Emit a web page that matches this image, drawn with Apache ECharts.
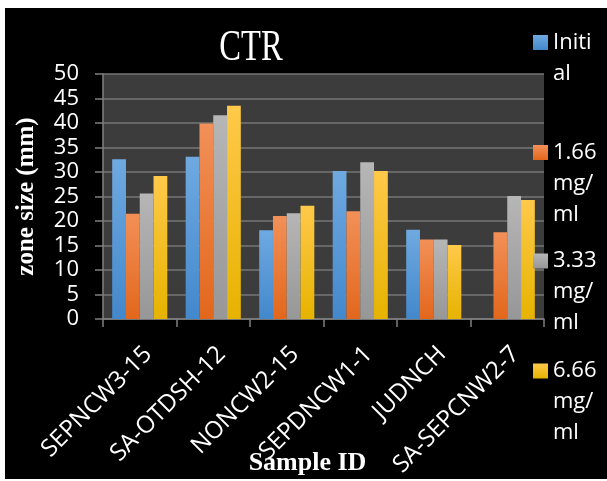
<!DOCTYPE html>
<html>
<head>
<meta charset="utf-8">
<script src="https://cdn.jsdelivr.net/npm/echarts@6/dist/echarts.min.js"></script>
<style>
html,body{margin:0;padding:0;background:#ffffff;}
#chart{position:absolute;left:5px;top:8px;width:602px;height:471px;}
</style>
</head>
<body>
<div id="chart"></div>
<script>
// ---- data ----
const categories = ['SEPNCW3-15', 'SA-OTDSH-12', 'NONCW2-15', 'SEPDNCW1-1', 'JUDNCH', 'SA-SEPCNW2-7'];
const seriesNames = ['Initial', '1.66 mg/ml', '3.33 mg/ml', '6.66 mg/ml'];
const initialValues = [32.6, 33.1, 18.1, 30.2, 18.2, 0];
const mg166Values = [21.5, 39.9, 21.0, 22.0, 16.2, 17.7];
const mg333Values = [25.6, 41.6, 21.6, 32.0, 16.2, 25.1];
const mg666Values = [29.2, 43.5, 23.1, 30.2, 15.1, 24.3];
const yMin = 0, yMax = 50, yStep = 5;
const titleText = 'CTR';
const yAxisTitle = 'zone size (mm)';
const xAxisTitle = 'Sample ID';
// wrapped legend text as shown in the picture
const legendWrapped = {
  'Initial': 'Initi\nal',
  '1.66 mg/ml': '1.66\nmg/\nml',
  '3.33 mg/ml': '3.33\nmg/\nml',
  '6.66 mg/ml': '6.66\nmg/\nml'
};

const chart = echarts.init(document.getElementById('chart'));

function grad(top, bottom) {
  return new echarts.graphic.LinearGradient(0, 0, 0, 1, [
    {offset: 0, color: top}, {offset: 1, color: bottom}
  ]);
}
const colors = [
  grad('#6fa9e0', '#4388cc'),
  grad('#f29058', '#e2671c'),
  grad('#b6b6b6', '#979797'),
  grad('#ffc94a', '#e6b300')
];
const valueLists = [initialValues, mg166Values, mg333Values, mg666Values];

const series = seriesNames.map((n, i) => ({
  name: n,
  type: 'bar',
  data: valueLists[i],
  barGap: '0%',
  barCategoryGap: '25%',
  itemStyle: {color: colors[i]},
  emphasis: {disabled: true}
}));

// legend icons are placed at these tops (chart coords); first text line aligned to icon
const legendIconTops = [27, 137, 245.5, 355.5];
const legendLineH = 31;
const legends = seriesNames.map((n, i) => {
  const lines = legendWrapped[n].split('\n').length;
  // leading blank lines push the first text line level with the icon
  const pad = lines - 1;
  const total = lines + pad;
  const top = legendIconTops[i] + 7.5 - total * legendLineH / 2;
  return {
    data: [n],
    orient: 'vertical',
    left: 528,
    top: top,
    padding: 0,
    icon: 'rect',
    itemWidth: 15,
    itemHeight: 15,
    selectedMode: false,
    formatter: function (name) {
      return '\n'.repeat(pad) + legendWrapped[name];
    },
    textStyle: {color: '#ffffff', fontFamily: 'Open Sans', fontSize: 22, lineHeight: legendLineH}
  };
});

const option = {
  backgroundColor: '#000000',
  animation: false,
  graphic: [{
    type: 'text',
    x: 246,
    y: 40.5,
    scaleX: 0.74,
    style: {
      text: titleText,
      fill: '#ffffff',
      font: '44px "Liberation Serif"',
      align: 'center',
      verticalAlign: 'middle',
      textAlign: 'center',
      textVerticalAlign: 'middle'
    }
  }],
  legend: legends,
  grid: {
    left: 98, right: 63, top: 66, bottom: 160,
    containLabel: false,
    outerBoundsMode: 'none',
    show: true,
    backgroundColor: '#3c3c3c',
    borderWidth: 0
  },
  xAxis: {
    type: 'category',
    data: categories,
    name: xAxisTitle,
    nameLocation: 'middle',
    nameGap: 131,
    nameMoveOverlap: false,
    nameTextStyle: {
      color: '#ffffff', fontFamily: 'Liberation Serif', fontWeight: 'bold', fontSize: 26,
      padding: [0, 32, 0, 0]
    },
    axisLine: {show: true, lineStyle: {color: '#808080', width: 1.5}},
    axisTick: {show: true, length: 8, lineStyle: {color: '#808080', width: 1.5}},
    axisLabel: {
      interval: 0,
      rotate: 45,
      margin: 23,
      align: 'right',
      verticalAlign: 'top',
      color: '#ffffff',
      fontFamily: 'Open Sans',
      fontSize: 24
    },
    splitLine: {show: false}
  },
  yAxis: {
    type: 'value',
    min: yMin, max: yMax, interval: yStep,
    name: yAxisTitle,
    nameLocation: 'middle',
    nameRotate: 90,
    nameGap: 64,
    nameMoveOverlap: false,
    nameTextStyle: {color: '#ffffff', fontFamily: 'Liberation Serif', fontWeight: 'bold', fontSize: 25},
    axisLine: {show: true, lineStyle: {color: '#808080', width: 1.5}},
    axisTick: {show: true, length: 8, lineStyle: {color: '#808080', width: 1.5}},
    axisLabel: {color: '#ffffff', fontFamily: 'Open Sans', fontSize: 22, margin: 24},
    splitLine: {show: true, lineStyle: {color: '#767676', width: 1.5}}
  },
  series: series
};
chart.setOption(option);
</script>
</body>
</html>
